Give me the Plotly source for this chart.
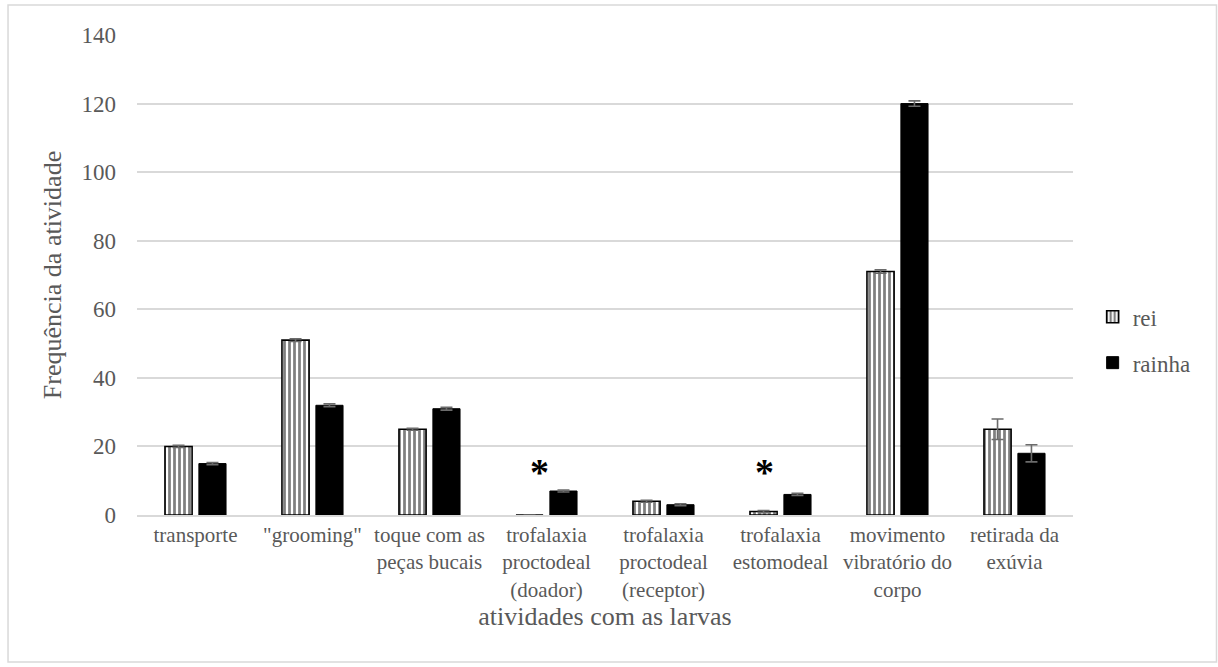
import plotly.graph_objects as go

# Activities observed with the larvae
categorias = [
    "transporte",
    "\"grooming\"",
    "toque com as<br>peças bucais",
    "trofalaxia<br>proctodeal<br>(doador)",
    "trofalaxia<br>proctodeal<br>(receptor)",
    "trofalaxia<br>estomodeal",
    "movimento<br>vibratório do<br>corpo",
    "retirada da<br>exúvia",
]

# Mean frequency per caste
rei = [20, 51, 25, 0, 4, 1, 71, 25]
rainha = [15, 32, 31, 7, 3, 6, 120, 18]

# Error bar half-lengths
erro_rei = [0.3, 0.4, 0.3, 0, 0.3, 0.3, 0.5, 3.0]
erro_rainha = [0.3, 0.4, 0.4, 0.3, 0.3, 0.3, 0.8, 2.5]

# Activities marked as significantly different
significativas = ["trofalaxia<br>proctodeal<br>(doador)", "trofalaxia<br>estomodeal"]
desvio_asterisco = [-7, -16]
altura_asterisco = 14.6

SERIF = "Liberation Serif, Times New Roman, serif"
TXT = "#595959"
GRID = "#d9d9d9"
ERR = "#6b6b6b"

fig = go.Figure()

fig.add_bar(
    name="rei",
    x=categorias,
    y=rei,
    legendgroup="rei",
    marker=dict(
        color="white",
        line=dict(color="black", width=1.6),
        pattern=dict(shape="|", fgcolor="black", bgcolor="white", size=5, solidity=0.55),
    ),
    error_y=dict(type="data", array=erro_rei, visible=True, color=ERR, thickness=1.6, width=6),
)

fig.add_bar(
    name="rainha",
    x=categorias,
    y=rainha,
    legendgroup="rainha",
    marker=dict(color="black", line=dict(color="black", width=1)),
    error_y=dict(type="data", array=erro_rainha, visible=True, color=ERR, thickness=1.6, width=6),
)

for cat, dx in zip(significativas, desvio_asterisco):
    fig.add_annotation(
        x=cat, y=altura_asterisco, xref="x", yref="y",
        text="<b>*</b>", showarrow=False,
        xshift=dx, yshift=-7,
        font=dict(family=SERIF, size=38, color="black"),
    )

# Light frame around the whole chart
fig.add_shape(
    type="rect", xref="paper", yref="paper",
    x0=-0.1378, x1=1.1533, y0=-0.306, y1=1.0625,
    line=dict(color=GRID, width=1.5), fillcolor="rgba(0,0,0,0)", layer="below",
)

fig.update_layout(
    width=1218,
    height=667,
    margin=dict(l=137, r=145, t=35, b=152),
    paper_bgcolor="white",
    plot_bgcolor="white",
    barmode="group",
    bargap=0.42,
    bargroupgap=0.2,
    font=dict(family=SERIF, color=TXT),
    showlegend=True,
    legend=dict(
        x=1.021, y=0.365, xanchor="left", yanchor="middle",
        font=dict(family=SERIF, size=23, color=TXT),
        tracegroupgap=13,
        bgcolor="rgba(0,0,0,0)",
    ),
    xaxis=dict(
        showgrid=False,
        showline=True, linecolor=GRID, linewidth=1.5,
        tickfont=dict(family=SERIF, size=21, color=TXT),
        ticks="",
        title=dict(text="atividades com as larvas", font=dict(family=SERIF, size=26, color=TXT), standoff=6),
    ),
    yaxis=dict(
        range=[0, 140],
        dtick=20,
        showgrid=True, gridcolor=GRID, gridwidth=1.5,
        zeroline=False,
        showline=False,
        ticks="",
        ticklabelstandoff=20,
        tickfont=dict(family=SERIF, size=23, color=TXT),
        title=dict(text="Frequência da atividade", font=dict(family=SERIF, size=26, color=TXT), standoff=12),
    ),
)

fig.write_html("out.html")
